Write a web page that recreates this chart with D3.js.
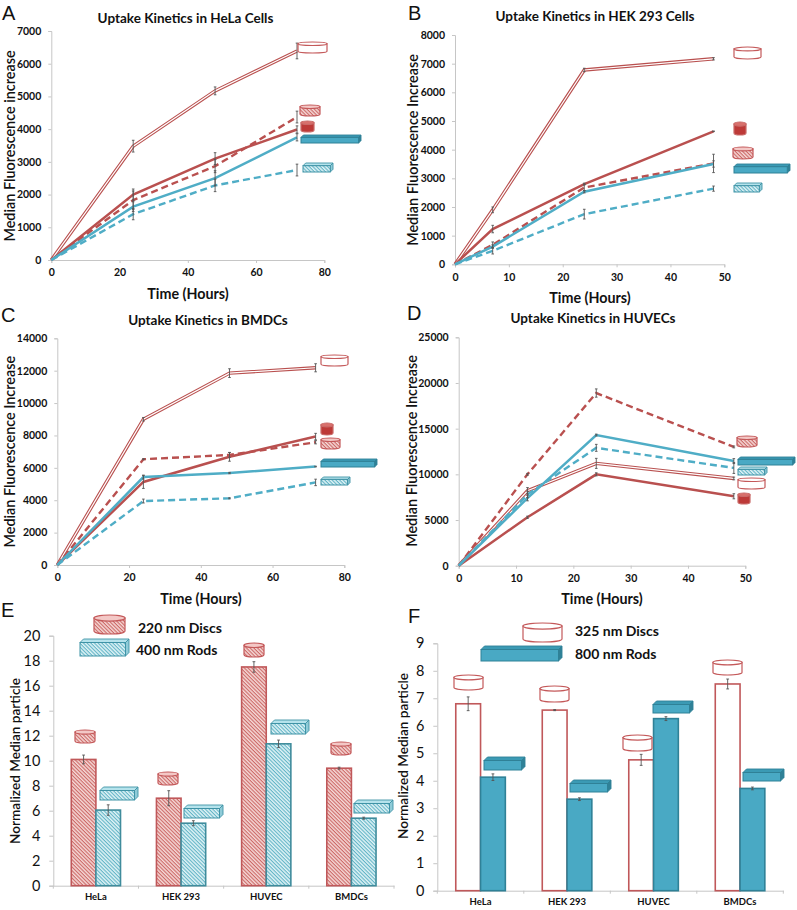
<!DOCTYPE html>
<html><head><meta charset="utf-8">
<script src="https://cdn.jsdelivr.net/npm/d3@7/dist/d3.min.js"></script>
<style>html,body{margin:0;padding:0;background:#fff}svg{display:block}text{font-family:Lato,"Open Sans",sans-serif;fill:#111}</style>
</head><body><svg id="c" width="797" height="910"></svg>
<script>
// ---------- data ----------
const timesA=[0,24,48,72], timesB=[0,7,24,48], timesC=[0,24,48,72], timesD=[0,12,24,48];
const openA=[0,3480,5170,6390], dashRedA=[0,1830,2870,4370], solidRedA=[0,2000,3100,3990], solidTealA=[0,1630,2500,3750], dashTealA=[0,1400,2280,2750];
const openAErr=[0,180,120,240], dashRedAErr=[0,280,200,180], solidRedAErr=[0,170,180,110], solidTealAErr=[0,150,230,110], dashTealAErr=[0,170,190,180];
const openB=[0,1900,6780,7170], dashRedB=[0,680,2680,3520], solidRedB=[0,1230,2800,4640], solidTealB=[0,620,2530,3500], dashTealB=[0,470,1750,2640];
const openBErr=[0,100,60,40], dashRedBErr=[0,100,110,320], solidRedBErr=[0,130,30,10], solidTealBErr=[0,60,40,110], dashTealBErr=[0,110,170,90];
const openC=[0,9000,11850,12180], dashRedC=[0,6530,6800,7580], solidRedC=[0,5130,6680,7930], solidTealC=[0,5430,5680,6080], dashTealC=[0,3950,4120,5100];
const openCErr=[0,110,270,250], dashRedCErr=[0,30,150,100], solidRedCErr=[0,400,270,200], solidTealCErr=[0,120,40,20], dashTealCErr=[0,120,30,200];
const openD=[0,8200,11200,9550], dashRedD=[0,10000,18900,13000], solidRedD=[0,5300,10000,7600], solidTealD=[0,7400,14300,11450], dashTealD=[0,7800,12900,10700];
const openDErr=[0,350,550,150], dashRedDErr=[0,100,450,100], solidRedDErr=[0,120,170,280], solidTealDErr=[0,300,100,270], dashTealDErr=[0,350,380,600];
const tickXA=[0,20,40,60,80], tickXB=[0,10,20,30,40,50];
const tickYA=[0,1000,2000,3000,4000,5000,6000,7000], tickYB=[0,1000,2000,3000,4000,5000,6000,7000,8000];
const tickYC=[0,2000,4000,6000,8000,10000,12000,14000], tickYD=[0,5000,10000,15000,20000,25000];
const cellLines=["HeLa","HEK 293","HUVEC","BMDCs"];
const discsE=[10.1,7.0,17.5,9.4], rodsE=[6.05,5.0,11.35,5.4], discsEErr=[0.35,0.6,0.42,0.08], rodsEErr=[0.42,0.2,0.3,0.08];
const discsF=[6.8,6.57,4.76,7.52], rodsF=[4.13,3.33,6.26,3.72], discsFErr=[0.25,0.02,0.2,0.18], rodsFErr=[0.12,0.05,0.07,0.05];
const tickYE=[0,2,4,6,8,10,12,14,16,18,20], tickYF=[0,1,2,3,4,5,6,7,8,9];

// ---------- layout and style ----------
const RED="#b9504f", TEAL="#4fadc6", FONT_BOLD=700;
const svg=d3.select("#c");
const defs=svg.append("defs");
function hatch(id,bg,fg){
  const p=defs.append("pattern").attr("id",id).attr("width",2.6).attr("height",2.6)
    .attr("patternUnits","userSpaceOnUse").attr("patternTransform","rotate(45)");
  p.append("rect").attr("width",2.6).attr("height",2.6).attr("fill",bg);
  p.append("rect").attr("width",2.6).attr("height",1.1).attr("fill",fg);
}
hatch("hr","#f5d8d6","#cc6866");
hatch("ht","#e0f3f6","#62b4c6");

function disc(kind,x,y,w,h){
  const g=svg.append("g"), ry=h*0.16;
  const fill=kind==="open"?"#fff":kind==="hatch"?"url(#hr)":"#bd3a38";
  const stroke=kind==="solid"?"#c96a68":"#c4595a";
  g.append("path").attr("d",`M${x},${y+ry}V${y+h-ry}A${w/2},${ry} 0 0 0 ${x+w},${y+h-ry}V${y+ry}Z`)
    .attr("fill",fill).attr("stroke",stroke).attr("stroke-width",1.2);
  g.append("ellipse").attr("cx",x+w/2).attr("cy",y+ry).attr("rx",w/2).attr("ry",ry)
    .attr("fill",kind==="solid"?"#d9706c":kind==="hatch"?"#f3c8c6":"#fff").attr("stroke",stroke).attr("stroke-width",1.2);
}
function rod(kind,x,y,w,h){
  const g=svg.append("g"), d=Math.min(3.5,h*0.3);
  const s=kind==="solid"?"#2f8197":"#3f93a6";
  const front=kind==="solid"?"#49a9c4":"url(#ht)";
  g.append("polygon").attr("points",[[x,y+d],[x+d,y],[x+w,y],[x+w-d,y+d]].join(" ")).attr("fill",kind==="solid"?"#3b9ab4":"#b5e3ec").attr("stroke",s).attr("stroke-width",.9);
  g.append("polygon").attr("points",[[x+w-d,y+d],[x+w,y],[x+w,y+h-d],[x+w-d,y+h]].join(" ")).attr("fill",kind==="solid"?"#2f8197":"#8fcbd8").attr("stroke",s).attr("stroke-width",.9);
  g.append("rect").attr("x",x).attr("y",y+d).attr("width",w-d).attr("height",h-d).attr("fill",front).attr("stroke",s).attr("stroke-width",1);
}
function icons(list){ list.forEach(([shape,kind,x,y,w,h])=>(shape==="disc"?disc:rod)(kind,x,y,w,h)); }
function label(txt,x,y,size,weight,anchor,rot){
  const t=svg.append("text").attr("text-anchor",anchor||"middle").attr("dominant-baseline","central")
    .attr("font-size",size).attr("font-weight",weight||FONT_BOLD).text(txt);
  if(rot) t.attr("transform",`translate(${x},${y}) rotate(${rot})`); else t.attr("x",x).attr("y",y);
  return t;
}
function panelLetter(txt,x,y){
  svg.append("text").attr("x",x).attr("y",y).attr("font-size",20).style("font-family","'Liberation Sans',sans-serif").attr("fill","#111").text(txt);
}
function styleAxis(g,size,weight){
  g.selectAll("path,line").attr("stroke","#c6c6c6").attr("stroke-width",1);
  g.selectAll("text").attr("font-size",size).attr("font-weight",weight).attr("fill","#111");
}
function errBars(xs,ys,errs,x,y,layer,cap){
  xs.forEach((t,i)=>{
    if(!errs[i]) return;
    const px=x(t),a=y(ys[i]-errs[i]),b=y(ys[i]+errs[i]);
    layer.append("path").attr("d",`M${px-cap},${a}H${px+cap}M${px},${a}V${b}M${px-cap},${b}H${px+cap}`)
      .attr("fill","none").attr("stroke","#555").attr("stroke-width",.9);
  });
}
function linePanel(c){
  const x=d3.scaleLinear().domain(c.xDomain).range(c.xRange);
  const y=d3.scaleLinear().domain(c.yDomain).range(c.yRange);
  const gx=svg.append("g").attr("transform",`translate(0,${c.yRange[0]})`)
    .call(d3.axisBottom(x).tickValues(c.xTicks).tickSize(3).tickPadding(6).tickFormat(d3.format("d")));
  const gy=svg.append("g").attr("transform",`translate(${c.xRange[0]},0)`)
    .call(d3.axisLeft(y).tickValues(c.yTicks).tickSize(3).tickPadding(7).tickFormat(d3.format("d")));
  styleAxis(gx,10.5,FONT_BOLD); styleAxis(gy,10.5,FONT_BOLD);
  const gen=d3.line().x((d,i)=>x(c.times[i])).y(d=>y(d));
  const L=svg.append("g").attr("fill","none").attr("stroke-linejoin","miter");
  L.append("path").attr("d",gen(c.open)).attr("stroke",RED).attr("stroke-width",3.4);
  L.append("path").attr("d",gen(c.open)).attr("stroke","#fff").attr("stroke-width",1.2);
  L.append("path").attr("d",gen(c.dashRed)).attr("stroke",RED).attr("stroke-width",2.4).attr("stroke-dasharray","7,4");
  L.append("path").attr("d",gen(c.solidRed)).attr("stroke",RED).attr("stroke-width",2.5);
  L.append("path").attr("d",gen(c.solidTeal)).attr("stroke",TEAL).attr("stroke-width",2.5);
  L.append("path").attr("d",gen(c.dashTeal)).attr("stroke",TEAL).attr("stroke-width",2.4).attr("stroke-dasharray","7,4");
  const E=svg.append("g");
  [[c.open,c.openErr],[c.dashRed,c.dashRedErr],[c.solidRed,c.solidRedErr],[c.solidTeal,c.solidTealErr],[c.dashTeal,c.dashTealErr]]
    .forEach(([v,e])=>errBars(c.times,v,e,x,y,E,1.3));
  icons(c.icons);
  label(c.title,c.titlePos[0],c.titlePos[1],13.5);
  label("Time (Hours)",c.xLab[0],c.xLab[1],14.3);
  label(c.yTitle,c.yLab[0],c.yLab[1],14.4,600,"middle",-90);
  panelLetter(c.letter,c.letterPos[0],c.letterPos[1]);
}
function barPanel(c){
  const x=d3.scaleBand().domain(cellLines).range(c.xRange);
  const x1=d3.scaleBand().domain([0,1]).range([0,x.bandwidth()]).paddingInner(0).paddingOuter(c.outer);
  const y=d3.scaleLinear().domain(c.yDomain).range(c.yRange);
  const gx=svg.append("g").attr("transform",`translate(0,${c.yRange[0]})`).call(d3.axisBottom(x).tickSize(0).tickPadding(c.catPad));
  const gy=svg.append("g").attr("transform",`translate(${c.xRange[0]},0)`)
    .call(d3.axisLeft(y).tickValues(c.yTicks).tickSize(4).tickPadding(9).tickFormat(d3.format("d")));
  styleAxis(gx,9.5,FONT_BOLD); styleAxis(gy,14.5,400);
  gy.selectAll("text").attr("fill","#222");
  gx.append("g").selectAll("line").data(d3.range(5)).join("line")
    .attr("x1",i=>c.xRange[0]+i*x.step()).attr("x2",i=>c.xRange[0]+i*x.step()).attr("y1",0).attr("y2",3).attr("stroke","#c6c6c6");
  const series=[{v:c.discs,e:c.discsErr,fill:c.discFill,stroke:"#c0585a"},{v:c.rods,e:c.rodsErr,fill:c.rodFill,stroke:c.rodStroke}];
  series.forEach((s,si)=>{
    svg.append("g").selectAll("rect").data(s.v).join("rect")
      .attr("x",(d,i)=>x(cellLines[i])+x1(si)).attr("width",x1.bandwidth())
      .attr("y",d=>y(d)).attr("height",d=>y(0)-y(d))
      .attr("fill",s.fill).attr("stroke",s.stroke).attr("stroke-width",1.6);
  });
  const E=svg.append("g");
  series.forEach((s,si)=>{
    s.v.forEach((v,i)=>{
      const px=x(cellLines[i])+x1(si)+x1.bandwidth()/2, a=y(v-s.e[i]), b=y(v+s.e[i]);
      E.append("path").attr("d",`M${px-1.4},${a}H${px+1.4}M${px},${a}V${b}M${px-1.4},${b}H${px+1.4}`)
       .attr("fill","none").attr("stroke","#555").attr("stroke-width",.9);
    });
  });
  icons(c.icons);
  c.legend.forEach(([t,lx,ly])=>label(t,lx,ly,14,FONT_BOLD,"start"));
  label("Normalized Median particle",c.yLab[0],c.yLab[1],13.6,600,"middle",-90);
  panelLetter(c.letter,c.letterPos[0],c.letterPos[1]);
}

linePanel({letter:"A",letterPos:[2,20],title:"Uptake Kinetics in HeLa Cells",titlePos:[185.5,18],xLab:[188,293],yTitle:"Median Fluorescence increase",yLab:[9,146],
  xDomain:[0,80],xRange:[51.3,324.3],yDomain:[0,7000],yRange:[260,31],times:timesA,xTicks:tickXA,yTicks:tickYA,
  open:openA,dashRed:dashRedA,solidRed:solidRedA,solidTeal:solidTealA,dashTeal:dashTealA,
  openErr:openAErr,dashRedErr:dashRedAErr,solidRedErr:solidRedAErr,solidTealErr:solidTealAErr,dashTealErr:dashTealAErr,
  icons:[["disc","open",298,42,29,11],["disc","hatch",300,105,20,11],["disc","solid",301,121,13,11],["rod","solid",301,135,60,8],["rod","hatch",303,163,30,9]]});
linePanel({letter:"B",letterPos:[408,20],title:"Uptake Kinetics in HEK 293 Cells",titlePos:[595,16],xLab:[590,297],yTitle:"Median Fluorescence Increase",yLab:[412,150],
  xDomain:[0,50],xRange:[455,724.3],yDomain:[0,8000],yRange:[264.3,35],times:timesB,xTicks:tickXB,yTicks:tickYB,
  open:openB,dashRed:dashRedB,solidRed:solidRedB,solidTeal:solidTealB,dashTeal:dashTealB,
  openErr:openBErr,dashRedErr:dashRedBErr,solidRedErr:solidRedBErr,solidTealErr:solidTealBErr,dashTealErr:dashTealBErr,
  icons:[["disc","open",734,47,27,12],["disc","solid",734,122,12,13],["disc","hatch",733,147,20,12],["rod","solid",734,164,56,9],["rod","hatch",734,183,28,9]]});
linePanel({letter:"C",letterPos:[1,322],title:"Uptake Kinetics in BMDCs",titlePos:[208,320],xLab:[201,598],yTitle:"Median Fluorescence Increase",yLab:[9,451.7],
  xDomain:[0,80],xRange:[57.3,344.3],yDomain:[0,14000],yRange:[565,338.3],times:timesC,xTicks:tickXA,yTicks:tickYC,
  open:openC,dashRed:dashRedC,solidRed:solidRedC,solidTeal:solidTealC,dashTeal:dashTealC,
  openErr:openCErr,dashRedErr:dashRedCErr,solidRedErr:solidRedCErr,solidTealErr:solidTealCErr,dashTealErr:dashTealCErr,
  icons:[["disc","open",321,355,27,11],["disc","solid",321,423,12,12],["disc","hatch",321,438,19,11],["rod","solid",321,459,56,8],["rod","hatch",321,477,29,8]]});
linePanel({letter:"D",letterPos:[407,320],title:"Uptake Kinetics in HUVECs",titlePos:[593,318],xLab:[602,598],yTitle:"Median Fluorescence Increase",yLab:[411,451],
  xDomain:[0,50],xRange:[458.7,745.3],yDomain:[0,25000],yRange:[565.7,337.3],times:timesD,xTicks:tickXB,yTicks:tickYD,
  open:openD,dashRed:dashRedD,solidRed:solidRedD,solidTeal:solidTealD,dashTeal:dashTealD,
  openErr:openDErr,dashRedErr:dashRedDErr,solidRedErr:solidRedDErr,solidTealErr:solidTealDErr,dashTealErr:dashTealDErr,
  icons:[["disc","hatch",737,436,20,11],["rod","solid",738,457,57,8],["rod","hatch",738,467,29,8],["disc","open",738,478,27,11],["disc","solid",738,493,12,11]]});
barPanel({letter:"E",letterPos:[1,617],xRange:[53.3,394],yDomain:[0,20],yRange:[885.7,635.7],yTicks:tickYE,outer:0.73,catPad:8,
  discs:discsE,rods:rodsE,discsErr:discsEErr,rodsErr:rodsEErr,discFill:"url(#hr)",rodFill:"url(#ht)",rodStroke:"#3f8c9c",yLab:[15,761],
  legend:[["220 nm Discs",138,627],["400 nm Rods",136,649]],
  icons:[["disc","hatch",94,615,31,19],["rod","hatch",80,639,49,17],
    ["disc","hatch",75,730,20,13],["rod","hatch",100,787,38,13],["disc","hatch",158,772,20,13],["rod","hatch",184,805,39,13],
    ["disc","hatch",244,643,20,14],["rod","hatch",271,720,38,14],["disc","hatch",331,742,20,13],["rod","hatch",354,800,39,13]]});
barPanel({letter:"F",letterPos:[408,623],xRange:[437.3,783.3],yDomain:[0,9],yRange:[890.7,643.3],yTicks:tickYF,outer:0.745,catPad:8,
  discs:discsF,rods:rodsF,discsErr:discsFErr,rodsErr:rodsFErr,discFill:"#fff",rodFill:"#49a9c4",rodStroke:"#2f8197",yLab:[403,756],
  legend:[["325 nm Discs",575,630],["800 nm Rods",575,653]],
  icons:[["disc","open",523,623,39,19],["rod","solid",481,646,81,15],
    ["disc","open",454,675,29,15],["rod","solid",484,757,41,13],["disc","open",540,686,29,16],["rod","solid",570,780,41,12],
    ["disc","open",623,735,29,16],["rod","solid",653,701,40,12],["disc","open",713,660,29,15],["rod","solid",743,769,41,12]]});
</script></body></html>
